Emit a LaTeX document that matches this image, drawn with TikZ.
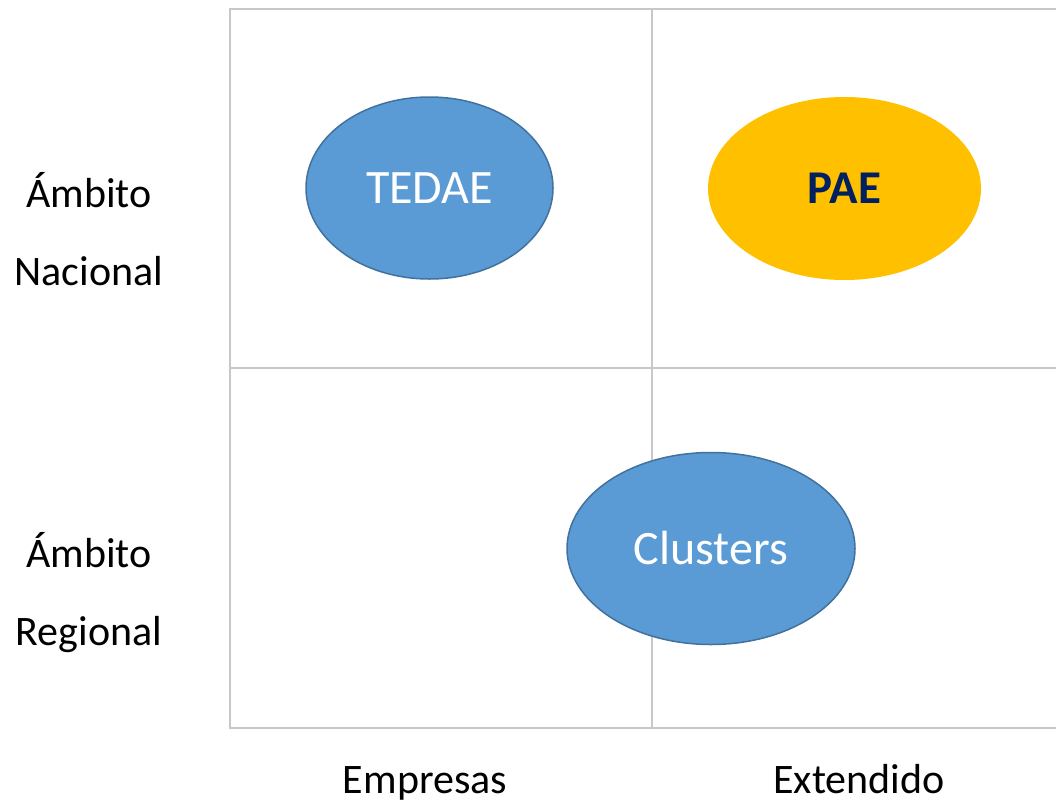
\documentclass[tikz,border=0pt]{standalone}
\usepackage{fontspec}
\setmainfont{Carlito}
\usepackage{tikz}
\usetikzlibrary{shapes.geometric}
\definecolor{gridgray}{RGB}{200,200,200}
\definecolor{cblue}{RGB}{91,155,213}
\definecolor{cblueline}{RGB}{65,113,156}
\definecolor{cgold}{RGB}{255,192,0}
\definecolor{cnavy}{RGB}{0,32,96}
\tikzset{
	grid_l/.style = {draw=gridgray, line width=2pt},
	ell_b/.style = {ellipse, inner sep=0pt, fill=cblue, draw=cblueline,
		line width=1.5pt, text=white, font=\fontsize{48}{56}\selectfont},
	ell_y/.style = {ellipse, inner sep=0pt, fill=cgold, text=cnavy,
		font=\fontsize{47}{56}\selectfont\bfseries},
	axis_t/.style = {anchor=base, inner sep=0pt, align=center,
		font=\fontsize{42}{78}\selectfont}
}
\begin{document}
\begin{tikzpicture}[x=1pt,y=-1pt]
\useasboundingbox (0,0) rectangle (1056,806);
% grid
\draw [grid_l] (1057,9) -- (230,9) -- (230,728) -- (1057,728);
\draw [grid_l] (652,9) -- (652,728);
\draw [grid_l] (230,368) -- (1057,368);
% ellipses
\node [ell_b, minimum width=247pt, minimum height=182pt] (tedae) at (429.5,188) {TEDAE};
\node [ell_y, minimum width=273pt, minimum height=183pt] (pae) at (844.5,188.5) {PAE};
\node [ell_b, minimum width=288pt, minimum height=192pt] (clusters) at (711,548.5) {Clusters};
% labels
\node [axis_t] (nacional) at (89,285) {Ámbito\\Nacional};
\node [axis_t] (regional) at (89,645) {Ámbito\\Regional};
\node [axis_t] (empresas) at (425,793) {Empresas};
\node [axis_t] (extendido) at (859,793) {Extendido};
\end{tikzpicture}
\end{document}
